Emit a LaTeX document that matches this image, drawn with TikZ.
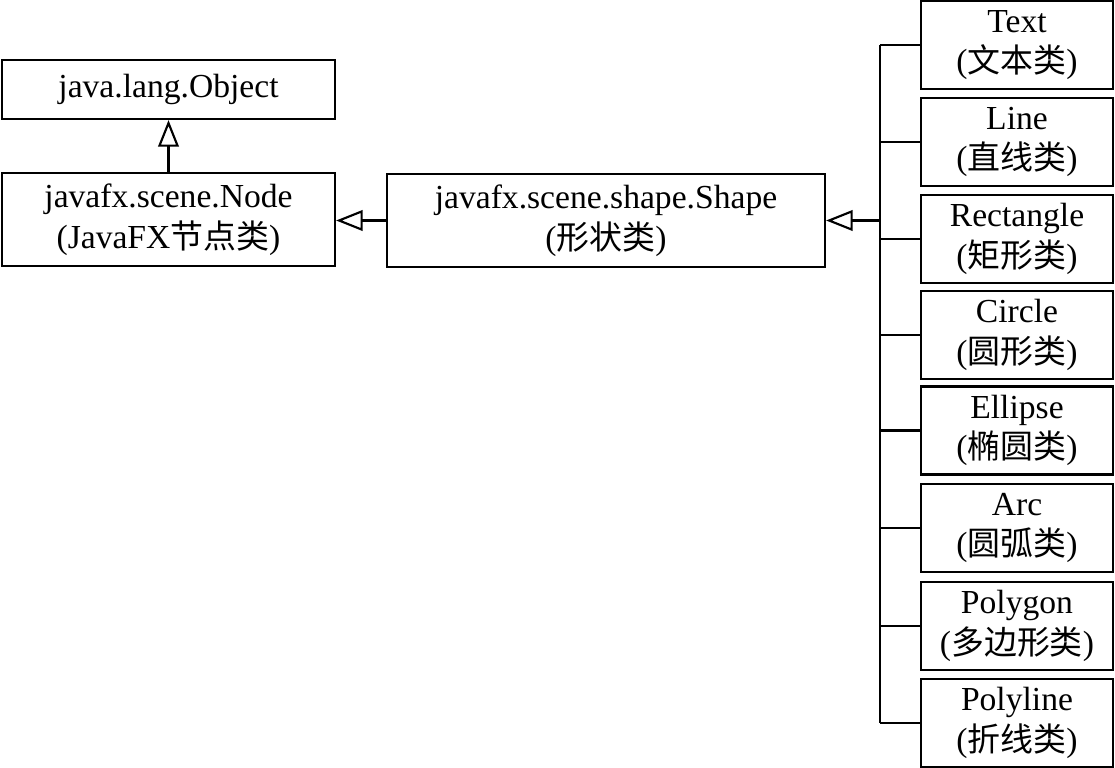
\documentclass[tikz,border=0pt]{standalone}
\usepackage{fontspec}
\setmainfont{Liberation Serif}
\newfontfamily\cjk{Noto Sans CJK SC}[Scale=0.98]
\usetikzlibrary{arrows.meta}
\begin{document}
\begin{tikzpicture}[x=0.75pt,y=-0.75pt,
  box/.style={draw, line width=1.6pt, inner sep=0pt, align=center,
    font=\fontsize{25.2}{30.5}\selectfont},
  leaf/.style={box, minimum width=144pt, minimum height=66pt},
  inh/.style={line width=1.6pt, -{Triangle[open, length=20pt, width=15.5pt, line width=1.6pt]}},
  conn/.style={line width=1.6pt}]
\useasboundingbox (0,0) rectangle (1115,768);
\node[box, minimum width=249.75pt, minimum height=44.25pt] (obj) at (168.5,89.5) {java.lang.Object};
\node[box, minimum width=249.75pt, minimum height=69.75pt] (fxnode) at (168.5,219.5) {javafx.scene.Node\\(JavaFX{\cjk 节点类})};
\node[box, minimum width=328.5pt, minimum height=69.75pt] (shape) at (606,220.5) {javafx.scene.shape.Shape\\({\cjk 形状类})};
\node[leaf] (text) at (1017,45) {Text\\({\cjk 文本类})};
\node[leaf] (line) at (1017,142) {Line\\({\cjk 直线类})};
\node[leaf] (rect) at (1017,239) {Rectangle\\({\cjk 矩形类})};
\node[leaf] (circ) at (1017,335) {Circle\\({\cjk 圆形类})};
\node[leaf] (ell) at (1017,430.5) {Ellipse\\({\cjk 椭圆类})};
\node[leaf] (arc) at (1017,528) {Arc\\({\cjk 圆弧类})};
\node[leaf] (pgon) at (1017,626) {Polygon\\({\cjk 多边形类})};
\node[leaf] (pline) at (1017,723) {Polyline\\({\cjk 折线类})};
\coordinate (ttop) at (880,45);
\coordinate (tbot) at (880,723);
\coordinate (tmid) at (880,220.5);
\draw[conn] (ttop) -- (tbot);
\foreach \n in {text,line,rect,circ,ell,arc,pgon,pline}
  \draw[conn] (\n.west) -- (\n.west -| ttop);
\draw[inh] (tmid) -- (shape.east);
\draw[inh] (shape.west) -- (shape.west -| fxnode.east);
\draw[inh] (fxnode.north) -- (obj.south);
\end{tikzpicture}
\end{document}
